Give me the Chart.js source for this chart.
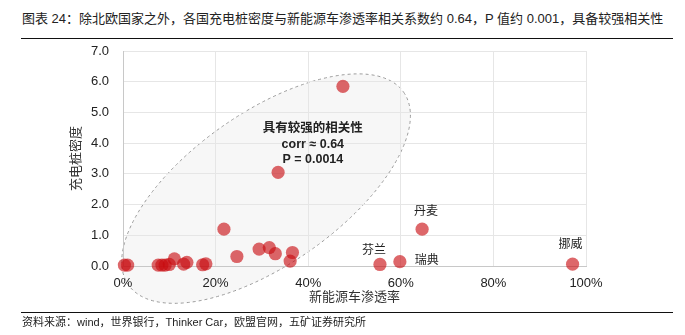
<!DOCTYPE html>
<html lang="zh-CN">
<head>
<meta charset="utf-8">
<title>充电桩密度与新能源车渗透率</title>
<script src="https://cdn.jsdelivr.net/npm/chart.js@4/dist/chart.umd.min.js"></script>
<style>
  html, body { margin: 0; padding: 0; background: #fff; }
  #wrap { position: relative; width: 685px; height: 335px; overflow: hidden;
          font-family: "Liberation Sans", "Noto Sans CJK SC", sans-serif; color: #222; }
  #title { position: absolute; left: 22px; top: 10px; font-size: 13px; line-height: 18px; white-space: nowrap; }
  .rule { position: absolute; left: 21px; width: 652px; height: 1.6px; background: #111; }
  #source { position: absolute; left: 22px; top: 315px; font-size: 11px; line-height: 14px; white-space: nowrap; color: #222; }
  #chart { position: absolute; left: 0; top: 0; }
</style>
</head>
<body>
<div id="wrap">
  <div id="title">图表 24：除北欧国家之外，各国充电桩密度与新能源车渗透率相关系数约 0.64，P 值约 0.001，具备较强相关性</div>
  <div class="rule" style="top:37.5px"></div>
  <canvas id="chart" width="685" height="335"></canvas>
  <div class="rule" style="top:311.5px"></div>
  <div id="source">资料来源：wind，世界银行，Thinker Car，欧盟官网，五矿证券研究所</div>
</div>
<script>
// 新能源车渗透率 (%)
const penetration = [0.3, 1.0, 7.6, 8.4, 9.1, 10.0, 11.1, 13.1, 13.8, 17.2, 17.9,
                     21.8, 24.6, 29.4, 31.6, 32.9, 33.5, 36.1, 36.6, 47.5,
                     55.5, 59.8, 64.6, 97.1];
// 充电桩密度
const chargerDensity = [0.03, 0.03, 0.03, 0.03, 0.03, 0.05, 0.23, 0.06, 0.12, 0.04, 0.07,
                        1.2, 0.31, 0.55, 0.6, 0.4, 3.05, 0.16, 0.44, 5.85,
                        0.05, 0.14, 1.2, 0.06];
// 北欧国家标注
const countryLabels = ['', '', '', '', '', '', '', '', '', '', '',
                       '', '', '', '', '', '', '', '', '',
                       '芬兰', '瑞典', '丹麦', '挪威'];
const xTicks = [0, 20, 40, 60, 80, 100];
const yTicks = [0, 1, 2, 3, 4, 5, 6, 7];
const noteLines = ['具有较强的相关性', 'corr ≈ 0.64', 'P = 0.0014'];

const FONT = '"Liberation Sans", "Noto Sans CJK SC", sans-serif';

// label placement around each marked point (pixels)
const labelOffset = {
  '芬兰': [-6, -14], '瑞典': [27, -1], '丹麦': [4, -17], '挪威': [-2, -19]
};

// shaded dashed ellipse around the non-Nordic group
const groupEllipse = {
  id: 'groupEllipse',
  beforeDraw(chart) {
    const { ctx, scales: { x, y } } = chart;
    const cx = x.getPixelForValue(30.9);
    const cy = y.getPixelForValue(2.52);
    ctx.save();
    ctx.beginPath();
    ctx.ellipse(cx, cy, 168, 76, -35 * Math.PI / 180, 0, Math.PI * 2);
    ctx.fillStyle = 'rgba(0,0,0,0.032)';
    ctx.fill();
    ctx.setLineDash([3, 3]);
    ctx.lineWidth = 1;
    ctx.strokeStyle = '#9a9a9a';
    ctx.stroke();
    ctx.restore();
  }
};

// country names and the correlation note
const textLayer = {
  id: 'textLayer',
  afterDatasetsDraw(chart) {
    const { ctx, scales: { x, y } } = chart;
    const meta = chart.getDatasetMeta(0);
    ctx.save();
    ctx.textAlign = 'center';
    ctx.textBaseline = 'middle';
    ctx.fillStyle = '#222';
    ctx.font = '12px ' + FONT;
    meta.data.forEach((pt, i) => {
      const name = countryLabels[i];
      if (!name) return;
      const off = labelOffset[name] || [0, -16];
      ctx.fillText(name, pt.x + off[0], pt.y + off[1]);
    });
    ctx.font = 'bold 12.5px ' + FONT;
    const nx = x.getPixelForValue(41);
    const ny = y.getPixelForValue(4.47);
    noteLines.forEach((t, i) => ctx.fillText(t, nx, ny + i * 15.5));
    ctx.restore();
  }
};

new Chart(document.getElementById('chart'), {
  type: 'scatter',
  data: {
    datasets: [{
      data: penetration.map((v, i) => ({ x: v, y: chargerDensity[i] })),
      backgroundColor: 'rgba(200,10,15,0.62)',
      borderWidth: 0,
      pointRadius: 6.6,
      pointHoverRadius: 6.6,
      clip: false
    }]
  },
  options: {
    responsive: false,
    animation: false,
    events: [],
    layout: { padding: { left: 0, right: 99, top: 51, bottom: 30 } },
    plugins: { legend: { display: false }, tooltip: { enabled: false } },
    scales: {
      x: {
        type: 'linear', min: 0, max: 100,
        afterBuildTicks(s) { s.ticks = xTicks.map(v => ({ value: v })); },
        afterFit(s) { s.height = 39; },
        grid: { color: '#e6e6e6', drawTicks: false },
        border: { color: '#c8c8c8' },
        ticks: {
          padding: 10, color: '#222', font: { family: FONT, size: 13 },
          callback: v => v + '%'
        },
        title: {
          display: true, text: '新能源车渗透率', color: '#333',
          font: { family: FONT, size: 13 }, padding: { top: 0, bottom: 0 }
        }
      },
      y: {
        type: 'linear', min: 0, max: 7,
        afterBuildTicks(s) { s.ticks = yTicks.map(v => ({ value: v })); },
        afterFit(s) { s.width = 123; },
        grid: { color: '#e6e6e6', drawTicks: false },
        border: { color: '#c8c8c8' },
        ticks: {
          padding: 14, color: '#222', font: { family: FONT, size: 13 },
          callback: v => Number(v).toFixed(1)
        },
        title: {
          display: true, text: '充电桩密度', color: '#333',
          font: { family: FONT, size: 13 }, padding: { top: 69, bottom: 0 }
        }
      }
    }
  },
  plugins: [groupEllipse, textLayer]
});
</script>
</body>
</html>
